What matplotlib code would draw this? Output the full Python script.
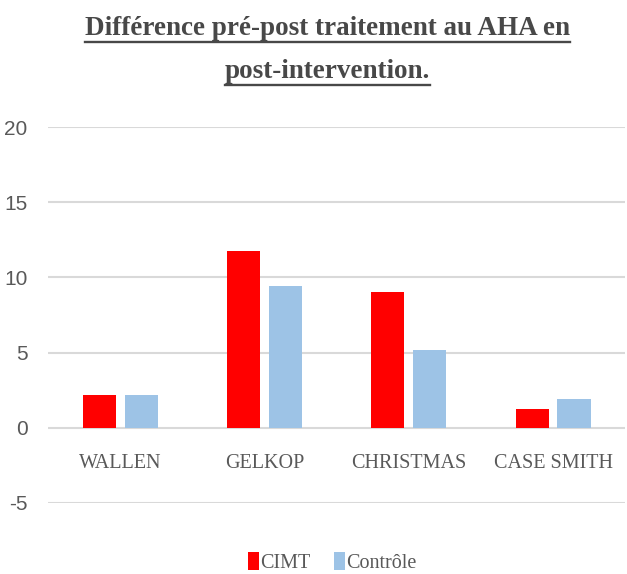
import matplotlib
matplotlib.use('Agg')
import numpy as np
from matplotlib import pyplot as plt
from matplotlib.lines import Line2D

# data
studies = ['WALLEN', 'GELKOP', 'CHRISTMAS', 'CASE SMITH']
cimt = [2.2, 11.75, 9.0, 1.25]
controle = [2.2, 9.4, 5.2, 1.9]
yticks = [-5, 0, 5, 10, 15, 20]

red = '#FF0000'
blue = '#9DC3E6'
grey = '#595959'

fig = plt.figure(figsize=(6.27, 5.74), dpi=100)
ax = fig.add_axes([0.077, 0.1237, 0.92, 0.655])

x = np.arange(len(studies))
w = 0.23
ax.bar(x - 0.145, cimt, w, color=red, label='CIMT', zorder=3)
ax.bar(x + 0.145, controle, w, color=blue, label='Contrôle', zorder=3)

ax.set_xlim(-0.5, len(studies) - 0.5)
ax.set_ylim(-5, 20)
ax.set_yticks(yticks)
ax.set_yticklabels([str(t) for t in yticks], family='Liberation Sans',
                   fontsize=15, color=grey)
ax.grid(axis='y', color='#D9D9D9', linewidth=1.5, zorder=0)
ax.tick_params(length=0, pad=15)
for s in ax.spines.values():
    s.set_visible(False)
ax.set_xticks([])

# category labels sit just under the zero line
for i, name in enumerate(studies):
    ax.text(i, -2.35, name, ha='center', va='center', family='Liberation Serif',
            fontsize=14.5, color=grey)

leg = fig.legend(loc='center', bbox_to_anchor=(0.53, 0.02), ncol=2, frameon=False,
                 prop={'family': 'Liberation Serif', 'size': 14.5}, handlelength=0.55,
                 handleheight=1.0, handletextpad=0.05, columnspacing=1.2)
for t in leg.get_texts():
    t.set_color(grey)

# title with underline
t1 = fig.text(0.522, 0.95, 'Différence pré-post traitement au AHA en', ha='center', va='center',
              family='Liberation Serif', weight='bold', fontsize=19.5, color='#484848')
t2 = fig.text(0.522, 0.875, 'post-intervention.', ha='center', va='center',
              family='Liberation Serif', weight='bold', fontsize=19.5, color='#484848')
fig.canvas.draw()
r = fig.canvas.get_renderer()
inv = fig.transFigure.inverted()
for t in (t1, t2):
    bb = t.get_window_extent(r)
    (x0, y0), (x1_, y1_) = inv.transform([(bb.x0, bb.y0), (bb.x1, bb.y1)])
    fig.add_artist(Line2D([x0, x1_], [y0 - 0.002, y0 - 0.002], transform=fig.transFigure,
                          color='#484848', linewidth=1.7))

plt.savefig('out.png', dpi=100)
